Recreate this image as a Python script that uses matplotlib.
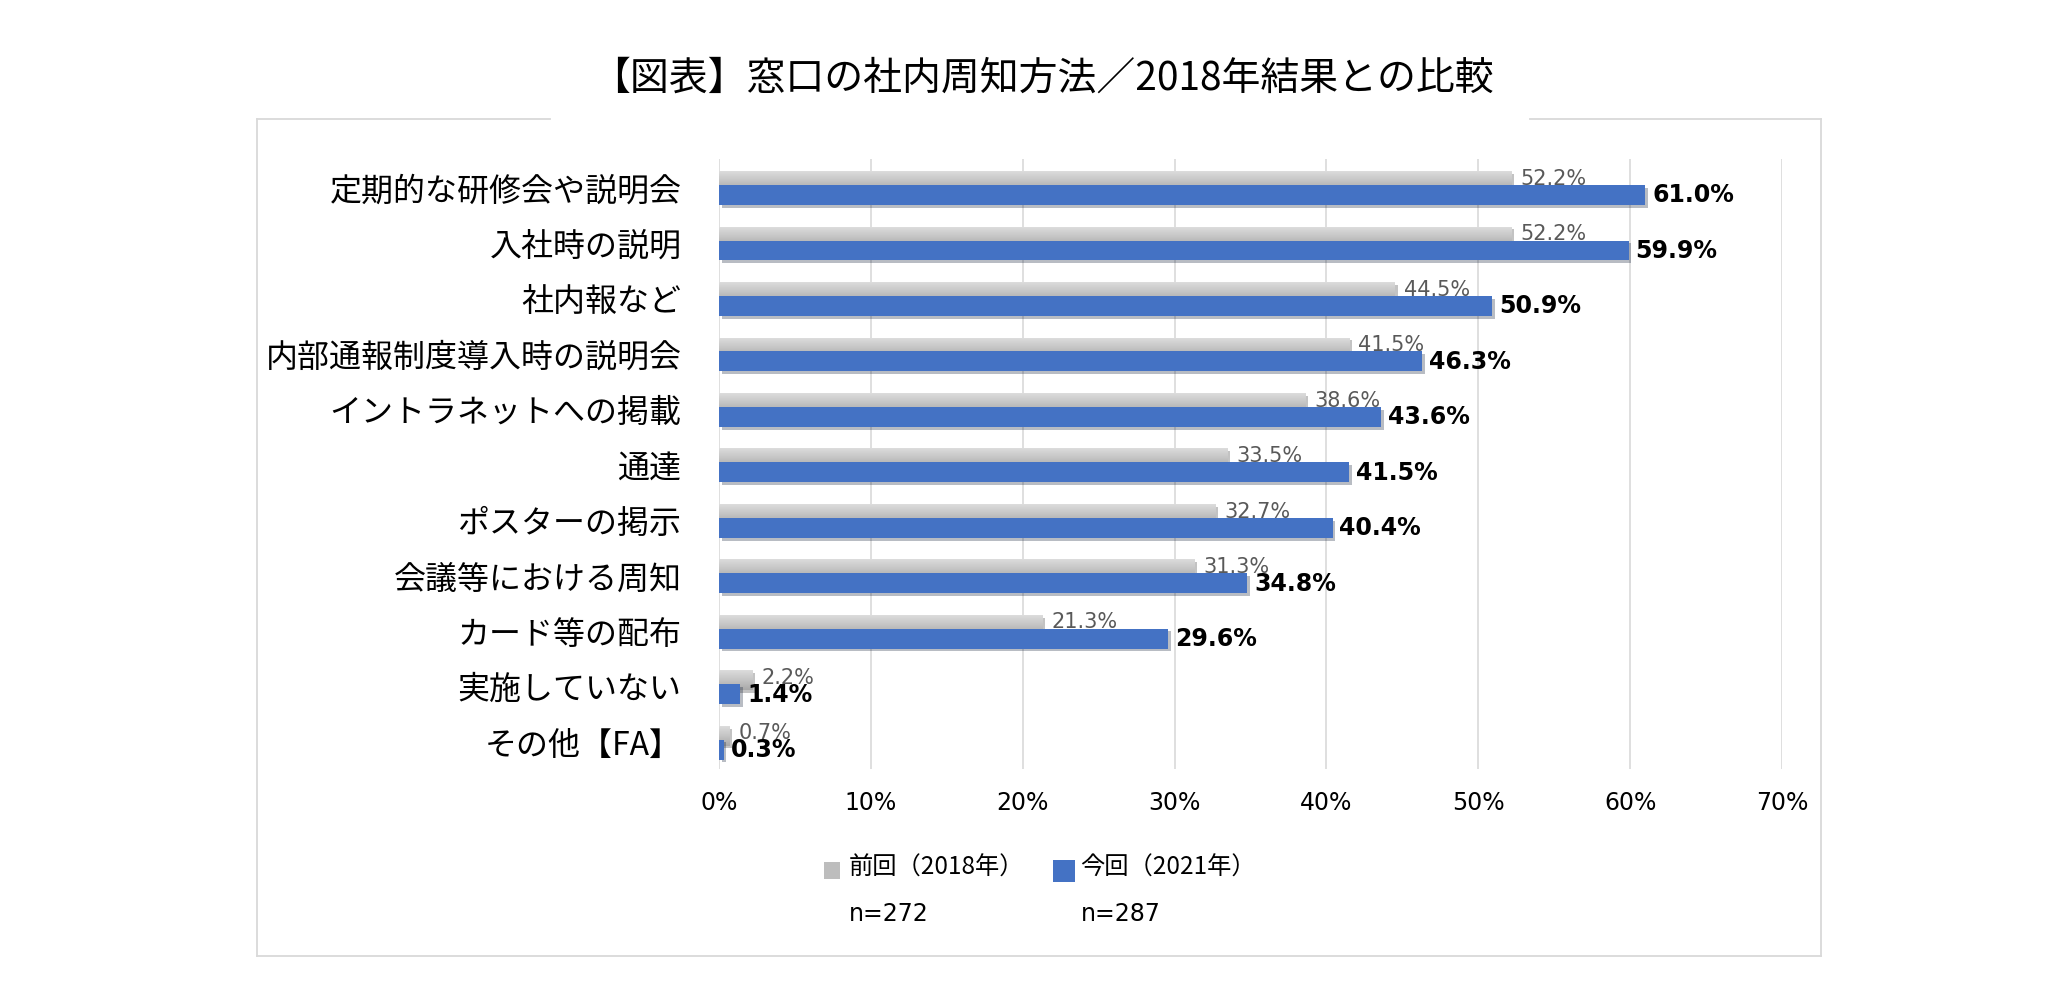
import numpy as np
import matplotlib
matplotlib.use("Agg")
import matplotlib.pyplot as plt
import matplotlib.patheffects as pe
from matplotlib.colors import LinearSegmentedColormap
from matplotlib.patches import Rectangle
from matplotlib.lines import Line2D

jp = ["Noto Sans CJK JP", "DejaVu Sans"]
num = ["DejaVu Sans", "Noto Sans CJK JP"]

categories = [
    "定期的な研修会や説明会",
    "入社時の説明",
    "社内報など",
    "内部通報制度導入時の説明会",
    "イントラネットへの掲載",
    "通達",
    "ポスターの掲示",
    "会議等における周知",
    "カード等の配布",
    "実施していない",
    "その他【FA】",
]
prev_2018 = [52.2, 52.2, 44.5, 41.5, 38.6, 33.5, 32.7, 31.3, 21.3, 2.2, 0.7]
curr_2021 = [61.0, 59.9, 50.9, 46.3, 43.6, 41.5, 40.4, 34.8, 29.6, 1.4, 0.3]
x_ticks = [0, 10, 20, 30, 40, 50, 60, 70]
series_names = ["前回（2018年）", "今回（2021年）"]
sample_sizes = ["n=272", "n=287"]

title = "【図表】窓口の社内周知方法／2018年結果との比較"

W, H = 2068, 995
fig = plt.figure(figsize=(W / 100, H / 100), dpi=100)
ax = fig.add_axes([719 / W, 1 - 770 / H, (1782 - 719) / W, 610 / H])

y = np.arange(len(categories))
bh = 0.36
shadow = [pe.SimplePatchShadow(offset=(2, -2), alpha=0.3), pe.Normal()]

gray_cmap = LinearSegmentedColormap.from_list("g", ["#DCDCDC", "#C4C4C4", "#A8A8A8"])
grad = np.linspace(0, 1, 64).reshape(-1, 1)

gray_bars = ax.barh(y - 0.1, prev_2018, height=bh, color="#C0C0C0", zorder=2)
for b in gray_bars:
    b.set_path_effects(shadow)
    x0, y0 = b.get_x(), b.get_y()
    im = ax.imshow(grad, cmap=gray_cmap, aspect="auto", origin="upper",
                   extent=(x0, x0 + b.get_width(), y0 + b.get_height(), y0),
                   zorder=2.5)
    im.set_clip_path(b)

blue_bars = ax.barh(y + 0.15, curr_2021, height=bh, color="#4472C4", zorder=3)
for b in blue_bars:
    b.set_path_effects(shadow)

for yi, v in zip(y, prev_2018):
    ax.annotate(f"{v:.1f}%", (v, yi - 0.16), xytext=(6.5, 0), textcoords="offset points",
                ha="left", va="center", fontsize=15, color="#595959",
                family=num, zorder=4)
for yi, v in zip(y, curr_2021):
    ax.annotate(f"{v:.1f}%", (v, yi + 0.14), xytext=(5, 0), textcoords="offset points",
                ha="left", va="center", fontsize=17, fontweight="bold",
                color="black", family=num, zorder=4)

ax.set_xlim(0, 70)
ax.set_ylim(len(categories) - 0.5, -0.5)
ax.set_xticks(x_ticks)
ax.set_xticklabels([f"{t}%" for t in x_ticks], family=num, fontsize=17)
ax.set_yticks(y)
ax.set_yticklabels(categories, family=jp, fontsize=23)
ax.tick_params(axis="x", length=0, pad=15)
ax.tick_params(axis="y", length=0, pad=27)
ax.grid(axis="x", color="#D9D9D9", linewidth=1.2, zorder=0)
ax.set_axisbelow(True)
for s in ax.spines.values():
    s.set_visible(False)

fig.text(0.504, 1 - 79 / H, title, ha="center", va="center", fontsize=28, family=jp)

# outer frame with a gap for the title
fc = "#D9D9D9"
L, R, T, B = 257 / W, 1821 / W, 1 - 120 / H, 1 - 957 / H
for xs, ys in [([L, 550 / W], [T, T]), ([1530 / W, R], [T, T]),
               ([L, L], [B, T]), ([R, R], [B, T]), ([L, R], [B, B])]:
    fig.add_artist(Line2D(xs, ys, color=fc, linewidth=1.3, transform=fig.transFigure))

# legend
fig.add_artist(Rectangle((824 / W, 1 - 880 / H), 16 / W, 17 / H, transform=fig.transFigure,
                         facecolor="#BDBDBD", edgecolor="none"))
fig.add_artist(Rectangle((1053 / W, 1 - 883 / H), 22 / W, 22 / H, transform=fig.transFigure,
                         facecolor="#4472C4", edgecolor="none"))
fig.text(849 / W, 1 - 868 / H, series_names[0], ha="left", va="center", fontsize=17.5, family=jp)
fig.text(1080 / W, 1 - 868 / H, series_names[1], ha="left", va="center", fontsize=17.5, family=jp)
fig.text(849 / W, 1 - 914 / H, sample_sizes[0], ha="left", va="center", fontsize=17, family=num)
fig.text(1081 / W, 1 - 914 / H, sample_sizes[1], ha="left", va="center", fontsize=17, family=num)

fig.savefig("out.png", dpi=100)
